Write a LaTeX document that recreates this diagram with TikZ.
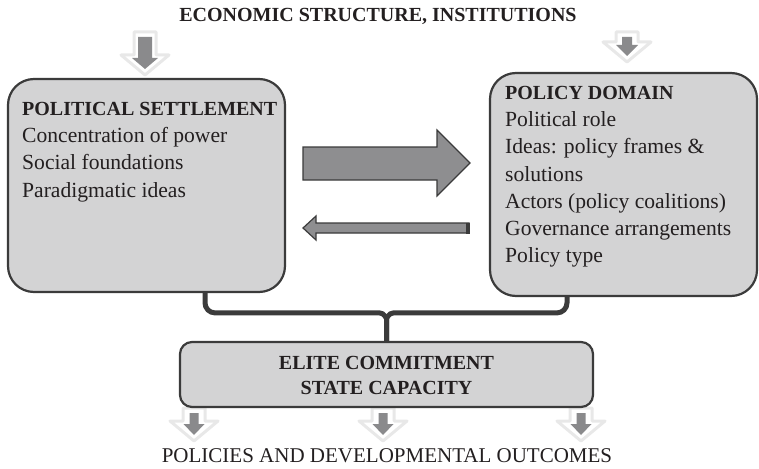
\documentclass[tikz,border=0pt]{standalone}
\usepackage{fontspec}
\setmainfont{Liberation Serif}
\usetikzlibrary{calc}

\definecolor{boxfill}{RGB}{211,211,212}
\definecolor{lineg}{RGB}{59,59,59}
\definecolor{arrowfill}{RGB}{142,142,144}
\definecolor{softgray}{RGB}{138,138,140}
\definecolor{inkc}{RGB}{35,31,32}

% #1 = x, #2 = top, #3 = tip, #4 = half width of the inner shaft
\newcommand{\softarrow}[4]{%
  \filldraw[fill=white, draw=black!9, line width=3pt, line join=round]
    (#1-11,#2) -- (#1+11,#2) -- (#1+11,#3-20) -- (#1+24,#3-20) -- (#1,#3)
    -- (#1-24,#3-20) -- (#1-11,#3-20) -- cycle;
  \fill[softgray]
    (#1-#4,#2+5) -- (#1+#4,#2+5) -- (#1+#4,#3-17) -- (#1+#4+6,#3-17) -- (#1,#3-6)
    -- (#1-#4-6,#3-17) -- (#1-#4,#3-17) -- cycle;
}

\begin{document}
\begin{tikzpicture}[
    x=1pt, y=-1pt,
    box/.style={rectangle, draw=lineg, fill=boxfill, line width=2.2pt, rounded corners=26pt, inner sep=0pt},
    boxtext/.style={anchor=north west, inner sep=0pt, align=left, text=inkc, font=\fontsize{21.6}{27.2}\selectfont},
    head/.style={text=inkc, inner sep=0pt, font=\fontsize{20}{25}\selectfont\bfseries},
    brace/.style={draw=lineg, line width=5pt},
    blockarrow/.style={fill=arrowfill, draw=lineg, line width=1.2pt, line join=miter}
]
\useasboundingbox (0,0) rectangle (759,468);

\softarrow{145}{32}{75}{7}
\softarrow{627}{32}{62}{5}
\softarrow{194}{408}{441}{4.5}
\softarrow{383}{408}{441}{4.5}
\softarrow{581}{408}{441}{4.5}

\node[head, anchor=base] (econ) at (378,22) {ECONOMIC STRUCTURE, INSTITUTIONS};

\node[box, minimum width=277pt, minimum height=213pt] (ps) at (146.5,185.5) {};
\node[box, minimum width=267pt, minimum height=223pt] (pd) at (623.5,184.5) {};
\node[box, rounded corners=12pt, minimum width=413pt, minimum height=65pt] (ec) at (386.5,374.5) {};

\node[boxtext] (pstext) at (22,102) {{\bfseries\fontsize{20}{27.2}\selectfont POLITICAL SETTLEMENT}\\
  Concentration of power\\ Social foundations\\ Paradigmatic ideas};
\node[boxtext] (pdtext) at (505,86) {{\bfseries\fontsize{20}{27.2}\selectfont POLICY DOMAIN}\\
  Political role\\ Ideas: policy frames \&\\ solutions\\ Actors (policy coalitions)\\
  Governance arrangements\\ Policy type};
\node[head, anchor=north, align=center] (ectext) at (386.5,356.5) {ELITE COMMITMENT\\ STATE CAPACITY};

\node[text=inkc, inner sep=0pt, anchor=base, font=\fontsize{21}{25}\selectfont] (out) at (387,462)
  {POLICIES AND DEVELOPMENTAL OUTCOMES};

\path[blockarrow] (303,147) -- (437,147) -- (437,130) -- (470,163) -- (437,196) -- (437,180) -- (303,180) -- cycle;
\path[blockarrow] (303,228) -- (316,216) -- (316,223) -- (469,223) -- (469,233) -- (316,233) -- (316,240) -- cycle;
\draw[lineg, line width=3.5pt] (468,222.5) -- (468,233.5);

\draw[brace, rounded corners=10pt] (ps.south -| 205,0) |- ($(ec.north)+(-17,-28)$)
  .. controls ($(ec.north)+(-2,-28)$) and ($(ec.north)+(0,-22)$) .. ($(ec.north)+(0,-12)$) -- (ec.north);
\draw[brace, rounded corners=10pt] (pd.south -| 567,0) |- ($(ec.north)+(17,-28)$)
  .. controls ($(ec.north)+(2,-28)$) and ($(ec.north)+(0,-22)$) .. ($(ec.north)+(0,-12)$) -- (ec.north);

\end{tikzpicture}
\end{document}
